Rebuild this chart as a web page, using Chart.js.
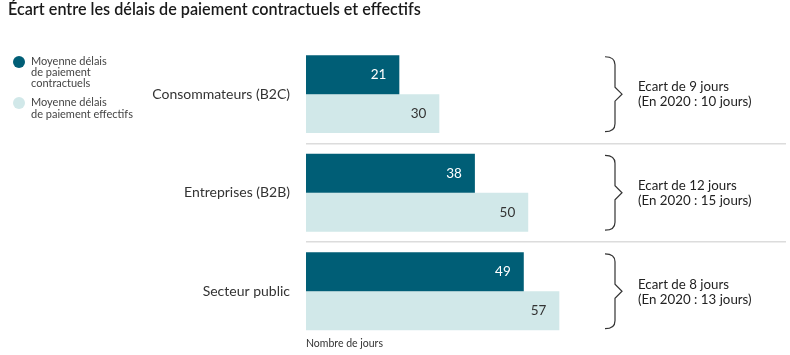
<!DOCTYPE html>
<html><head><meta charset="utf-8">
<script src="https://cdn.jsdelivr.net/npm/chart.js@4/dist/chart.umd.min.js"></script>
<style>html,body{margin:0;padding:0;background:#fff}#wrap{width:790px;height:355px;position:relative}</style>
</head><body><div id="wrap"><canvas id="c"></canvas></div>
<script>
const categories = ['Consommateurs (B2C)', 'Entreprises (B2B)', 'Secteur public'];
const seriesNames = [['Moyenne délais', 'de paiement', 'contractuels'], ['Moyenne délais', 'de paiement effectifs']];
const contractuels = [21, 38, 49];
const effectifs = [30, 50, 57];
const ecartLines = [
  ['Ecart de 9 jours', '(En 2020 : 10 jours)'],
  ['Ecart de 12 jours', '(En 2020 : 15 jours)'],
  ['Ecart de 8 jours', '(En 2020 : 13 jours)']
];
const chartTitle = 'Écart entre les délais de paiement contractuels et effectifs';
const xTitle = 'Nombre de jours';

const DARK = '#005e76';
const LIGHT = '#d1e8e9';
const FONT = 'Lato, "Open Sans", sans-serif';

const valueLabels = {
  id: 'valueLabels',
  afterDatasetsDraw(chart) {
    const ctx = chart.ctx;
    ctx.save();
    ctx.font = '13.5px ' + FONT;
    ctx.textAlign = 'right';
    ctx.textBaseline = 'middle';
    chart.data.datasets.forEach((ds, di) => {
      const meta = chart.getDatasetMeta(di);
      meta.data.forEach((bar, i) => {
        ctx.fillStyle = di === 0 ? '#ffffff' : '#333333';
        ctx.fillText(String(ds.data[i]), bar.x - 13, bar.y);
      });
    });
    ctx.restore();
  }
};

const sideNotes = {
  id: 'sideNotes',
  afterDraw(chart) {
    const ctx = chart.ctx;
    const y = chart.scales.y;
    const band = (y.getPixelForValue(1) - y.getPixelForValue(0));
    ctx.save();
    categories.forEach((c, i) => {
      const cy = y.getPixelForValue(i);
      const top = cy - band * 0.38;
      const bot = cy + band * 0.38;
      const xs = 615, xl = 605, xt = 622, r = 4;
      ctx.strokeStyle = '#333';
      ctx.lineWidth = 1.2;
      ctx.beginPath();
      ctx.moveTo(xl, top);
      ctx.quadraticCurveTo(xs, top, xs, top + r * 2);
      ctx.lineTo(xs, cy - 7);
      ctx.lineTo(xt, cy);
      ctx.lineTo(xs, cy + 7);
      ctx.lineTo(xs, bot - r * 2);
      ctx.quadraticCurveTo(xs, bot, xl, bot);
      ctx.stroke();
      ctx.fillStyle = '#222';
      ctx.font = '13.3px ' + FONT;
      ctx.textAlign = 'left';
      ctx.textBaseline = 'middle';
      ctx.fillText(ecartLines[i][0], 638, cy - 7);
      ctx.fillText(ecartLines[i][1], 638, cy + 8);
    });
    // legend
    const colors = [DARK, LIGHT];
    const legY = [[61, 72, 83], [102, 114]];
    ctx.font = '11px ' + FONT;
    ctx.textAlign = 'left';
    ctx.textBaseline = 'middle';
    seriesNames.forEach((lines, k) => {
      ctx.fillStyle = colors[k];
      ctx.beginPath();
      ctx.arc(19, legY[k][0] + 1, 6, 0, Math.PI * 2);
      ctx.fill();
      ctx.fillStyle = '#444';
      lines.forEach((t, j) => ctx.fillText(t, 31, legY[k][j]));
    });
    ctx.restore();
  }
};

new Chart(document.getElementById('c'), {
  type: 'bar',
  data: {
    labels: categories,
    datasets: [
      { label: 'Moyenne délais de paiement contractuels', data: contractuels, backgroundColor: DARK, categoryPercentage: 0.79, barPercentage: 1.0 },
      { label: 'Moyenne délais de paiement effectifs', data: effectifs, backgroundColor: LIGHT, categoryPercentage: 0.79, barPercentage: 1.0 }
    ]
  },
  options: {
    indexAxis: 'y',
    responsive: true,
    maintainAspectRatio: false,
    animation: false,
    layout: { padding: { left: 8, right: 4, top: 0, bottom: 0 } },
    plugins: {
      legend: { display: false },
      tooltip: { enabled: false },
      title: {
        display: true, text: chartTitle, align: 'start', color: '#1a1a1a',
        font: { family: FONT, size: 16.2, weight: '600', lineHeight: 1.2 },
        padding: { top: 0, bottom: 25.5 }
      }
    },
    scales: {
      x: {
        min: 0, max: 108,
        grid: { display: false },
        border: { display: false },
        ticks: { display: false },
        title: { display: true, text: xTitle, align: 'start', color: '#333', font: { family: FONT, size: 10.5, lineHeight: 1.2 }, padding: { top: 0, bottom: 5 } },
        afterFit(s) { s.height = 14.5; }
      },
      y: {
        border: { display: false },
        grid: {
          offset: true, drawTicks: false, lineWidth: 1.5,
          color: (ctx) => (ctx.type === 'tick' && ctx.index > 0) ? '#dcdcdc' : 'rgba(0,0,0,0)'
        },
        ticks: { padding: 16, color: '#333', font: { family: FONT, size: 14 } },
        afterFit(s) { s.width = 298; s.paddingTop = 0; s.paddingBottom = 0; }
      }
    }
  },
  plugins: [valueLabels, sideNotes]
});
</script></body></html>
